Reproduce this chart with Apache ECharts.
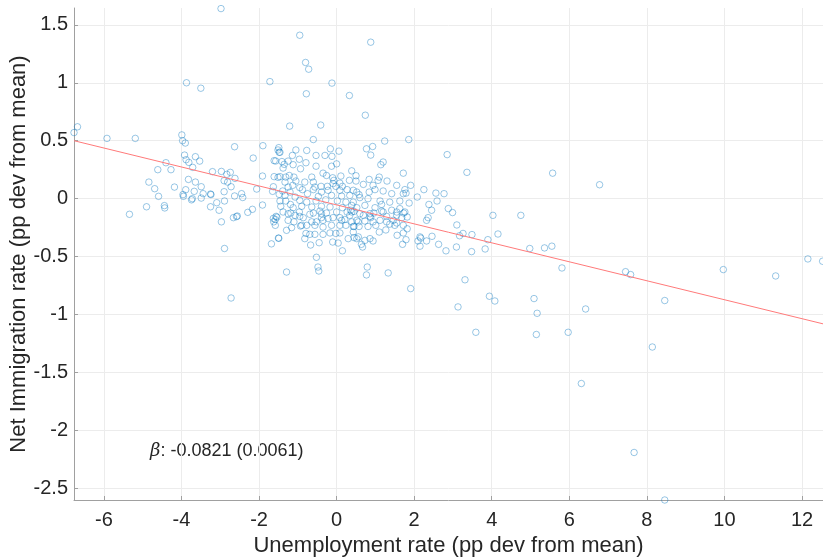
<!DOCTYPE html>
<html>
<head>
<meta charset="utf-8">
<script src="https://cdn.jsdelivr.net/npm/echarts@6/dist/echarts.min.js"></script>
<style>
html, body { margin: 0; padding: 0; background: #fff; }
#chart { width: 823px; height: 557px; }
</style>
</head>
<body>
<div id="chart"></div>
<script>
// unemployment (pp dev from mean)
var unemp = [
  -2.98,-6.77,-6.68,-5.92,-5.19,-5.34,-4.90,-4.84,-4.69,-4.61,-4.59,-4.44,-4.43,-4.40,-4.27,-4.18,
  -3.99,-3.97,-3.90,-3.92,-3.88,-3.81,-3.64,-3.53,-3.71,-3.82,-3.64,-3.49,-3.96,-3.95,-3.89,-3.67,
  -3.74,-3.72,-3.49,-3.44,-3.25,-3.24,-3.25,-3.09,-3.03,-2.97,-2.89,-2.89,-2.90,-2.90,-2.81,-2.97,
  -3.20,-2.83,-2.74,-2.62,-2.72,-2.63,-2.66,-2.58,-2.56,-2.45,-2.42,-2.29,-2.17,-2.06,-2.15,-2.63,
  -3.87,-3.50,-1.72,-1.90,-1.91,-1.91,-1.68,-1.65,-1.63,-1.61,-1.57,-1.51,-1.48,-1.61,-1.51,-1.48,
  -1.50,-1.63,-1.58,-1.54,-2.72,
  -0.95,0.88,-0.80,-0.72,-0.12,-0.78,0.33,0.74,-1.21,-0.41,-0.60,1.24,1.86,
  -1.49,-1.05,-0.77,-0.16,0.06,-1.46,-1.14,-0.53,-0.30,-0.12,-1.41,-1.25,-0.96,-0.79,-1.35,-1.12,
  -0.53,-0.13,0.00,-1.38,-0.93,-1.46,-1.31,-1.22,-1.10,-0.64,-0.35,-0.26,-0.10,0.11,0.39,-1.33,
  -1.05,-0.82,-0.60,-0.07,-0.09,0.085,0.33,0.50,-1.25,-1.13,-0.95,-0.56,-0.40,-0.24,-0.02,0.15,
  -1.39,-1.20,-0.88,-0.60,-0.75,-0.39,-0.22,0.085,0.27,0.43,-1.33,-1.07,-0.47,-0.13,0.13,0.34,
  0.58,-1.46,-1.31,-1.19,-0.95,-0.77,-0.53,-0.28,0.02,0.24,0.43,-1.44,-1.12,-0.90,-0.64,-0.39,
  -0.17,0.15,-1.38,-1.18,-0.96,-0.60,-0.43,-0.26,0.00,0.27,0.45,-1.56,-0.86,-0.39,-0.09,0.085,0.36,
  -1.62,-1.58,-1.25,-1.07,-0.95,-1.25,-1.10,-0.69,-0.64,-0.52,-0.39,-0.35,-0.22,0.13,0.21,0.34,
  0.52,-0.93,-0.90,-0.77,-0.56,-0.35,-0.13,0.085,0.24,0.45,-1.29,-1.16,-0.79,-0.69,-0.56,-0.35,
  -0.17,-0.02,0.085,0.30,0.45,0.56,-0.82,-0.10,0.04,-1.49,-0.67,-0.45,0.15,-0.52,-0.48,-0.46,-1.29,
  0.77,0.93,0.88,1.20,1.14,2.85,0.50,1.72,0.84,1.10,1.07,1.30,0.69,0.94,1.55,1.76,1.91,2.25,
  0.52,0.84,0.99,1.20,1.42,1.72,1.79,2.08,2.56,2.77,2.59,2.38,2.88,0.60,0.81,1.12,1.37,1.63,1.87,
  0.39,0.52,0.73,0.99,1.16,1.16,1.42,1.63,1.76,0.39,0.60,0.86,1.29,1.55,1.68,2.36,
  0.69,0.86,0.88,0.96,1.20,1.55,1.73,1.82,2.45,2.32,0.39,0.56,0.73,0.94,1.12,1.29,1.46,1.55,1.72,
  0.43,0.58,0.81,1.01,1.37,1.50,0.43,1.10,1.27,1.72,1.82,1.56,2.15,2.17,2.32,2.46,2.63,2.82,2.15,
  2.10,0.52,0.73,0.86,0.94,0.64,0.67,1.70,1.79,0.79,0.77,1.33,1.91,
  3.36,5.57,6.78,2.99,4.03,4.75,3.10,3.26,3.17,3.49,4.16,3.90,3.09,3.48,3.83,4.98,5.36,5.55,5.81,3.31,
  3.13,3.94,4.08,3.59,5.09,5.17,5.15,5.97,6.42,6.31,
  8.46,8.14,7.67,8.46,
  7.45,7.58,9.97,11.32,12.15,12.53
];
// net immigration (pp dev from mean)
var netImm = [
  1.64,0.57,0.62,0.52,0.52,-0.135,-0.07,0.143,0.086,0.25,0.02,-0.06,-0.08,0.31,0.25,0.10,
  0.55,0.50,0.48,0.376,0.336,0.313,0.362,0.324,0.27,0.166,0.143,0.103,0.035,0.02,0.077,0.063,
  -0.01,0.0,0.005,0.043,0.04,0.035,-0.07,-0.035,-0.10,-0.20,-0.43,-0.02,0.06,0.155,0.143,0.235,
  0.233,0.21,0.227,0.175,0.103,0.023,-0.164,-0.155,-0.15,0.043,0.01,-0.118,-0.092,0.083,0.35,0.448,
  1.00,0.953,1.01,0.457,0.195,-0.055,-0.39,0.063,0.103,0.328,0.325,0.42,0.40,0.19,0.184,0.037,
  -0.34,-0.17,-0.18,-0.16,-0.857,
  1.41,1.35,1.175,1.117,0.997,0.905,0.89,0.72,0.626,0.635,0.51,0.497,0.51,
  0.44,0.42,0.416,0.43,0.41,0.40,0.373,0.373,0.373,0.365,0.32,0.324,0.34,0.31,0.296,0.293,
  0.28,0.28,0.30,0.264,0.258,0.19,0.186,0.20,0.186,0.186,0.22,0.20,0.18,0.195,0.24,0.143,
  0.152,0.143,0.143,0.158,0.13,0.134,0.158,0.152,0.10,0.115,0.095,0.10,0.106,0.106,0.106,0.106,
  0.066,0.057,0.078,0.078,0.043,0.057,0.072,0.072,0.078,0.072,0.028,0.014,0.02,0.028,0.022,0.028,
  0.034,-0.02,-0.02,-0.05,-0.015,-0.03,-0.02,-0.01,-0.02,-0.03,-0.03,-0.066,-0.078,-0.066,-0.072,-0.066,
  -0.072,-0.078,-0.115,-0.124,-0.115,-0.124,-0.107,-0.124,-0.115,-0.115,-0.11,-0.153,-0.164,-0.164,-0.164,-0.164,-0.10,
  -0.20,-0.23,-0.13,-0.144,-0.153,-0.187,-0.20,-0.135,-0.20,-0.20,-0.13,-0.187,-0.172,-0.187,-0.18,-0.144,
  -0.187,-0.236,-0.23,-0.23,-0.23,-0.245,-0.23,-0.23,-0.23,-0.24,-0.273,-0.25,-0.30,-0.308,-0.308,-0.308,
  -0.296,-0.30,-0.296,-0.345,-0.336,-0.33,-0.345,-0.374,-0.383,-0.342,-0.40,-0.38,-0.45,-0.506,-0.59,-0.624,-0.633,
  0.43,0.45,0.376,0.316,0.293,0.38,0.198,0.22,0.166,0.186,0.158,0.152,0.123,0.115,0.115,0.078,0.115,0.078,
  0.057,0.057,0.078,0.066,0.043,0.043,0.048,0.014,0.048,0.043,-0.02,-0.05,-0.086,0.009,0.0,-0.02,-0.03,-0.02,-0.038,
  -0.058,-0.078,-0.058,-0.078,-0.05,-0.107,-0.10,-0.086,-0.115,-0.115,-0.13,-0.13,-0.153,-0.144,-0.164,-0.164,
  -0.144,-0.153,-0.164,-0.124,-0.115,-0.115,-0.124,-0.158,-0.10,-0.187,-0.20,-0.20,-0.193,-0.20,-0.187,-0.20,-0.187,-0.21,-0.23,
  -0.24,-0.24,-0.24,-0.23,-0.22,-0.23,-0.288,-0.288,-0.27,-0.296,-0.26,-0.316,-0.33,-0.34,-0.365,-0.325,-0.394,-0.45,-0.41,
  -0.365,-0.345,-0.36,-0.345,-0.365,-0.394,-0.417,-0.394,-0.354,-0.59,-0.658,-0.641,-0.776,
  0.227,0.22,0.12,-0.12,-0.144,-0.144,-0.227,-0.30,-0.32,-0.31,-0.305,-0.354,-0.417,-0.457,-0.434,-0.43,-0.425,-0.41,-0.598,-0.70,
  -0.934,-0.842,-0.883,-1.153,-0.862,-0.989,-1.172,-1.153,-0.952,-1.595,
  -0.879,-1.28,-2.19,-2.60,
  -0.63,-0.655,-0.612,-0.667,-0.52,-0.54
];
// fitted line end points
var fitX = [-6.77, 12.54];
var fitY = [0.50, -1.08];
var xTicks = [-6, -4, -2, 0, 2, 4, 6, 8, 10, 12];
var yTicks = [-2.5, -2, -1.5, -1, -0.5, 0, 0.5, 1, 1.5];
var betaText = '-0.0821 (0.0061)';

var points = [];
for (var i = 0; i < unemp.length; i++) {
  points.push([unemp[i], netImm[i]]);
}
var fitData = [[fitX[0], fitY[0]], [fitX[1], fitY[1]]];

var font = 'Liberation Sans, Arial, Helvetica, sans-serif';
var myChart = echarts.init(document.getElementById('chart'), null, { renderer: 'canvas' });

var option = {
  animation: false,
  backgroundColor: '#fff',
  grid: { left: 74, right: 0, top: 8, bottom: 57, containLabel: false, outerBoundsMode: 'none' },
  xAxis: {
    type: 'value',
    min: -6.77,
    max: 12.54,
    name: 'Unemployment rate (pp dev from mean)',
    nameLocation: 'middle',
    nameGap: 34,
    nameTextStyle: { fontFamily: font, fontSize: 22, color: '#262626' },
    axisLine: { show: true, onZero: false, lineStyle: { color: '#a0a0a0', width: 1 } },
    axisTick: { show: true, inside: true, length: 4, customValues: xTicks, lineStyle: { color: '#a0a0a0' } },
    axisLabel: { customValues: xTicks, fontFamily: font, fontSize: 20, color: '#262626', margin: 10 },
    splitLine: { show: true, lineStyle: { color: '#ececec', width: 1 } }
  },
  yAxis: {
    type: 'value',
    min: -2.6,
    max: 1.645,
    name: 'Net Immigration rate (pp dev from mean)',
    nameLocation: 'middle',
    nameGap: 44,
    nameMoveOverlap: false,
    nameTextStyle: { fontFamily: font, fontSize: 22, color: '#262626' },
    axisLine: { show: true, onZero: false, lineStyle: { color: '#a0a0a0', width: 1 } },
    axisTick: { show: true, inside: true, length: 4, customValues: yTicks, lineStyle: { color: '#a0a0a0' } },
    axisLabel: { customValues: yTicks, fontFamily: font, fontSize: 20, color: '#262626', margin: 6 },
    splitLine: { show: true, lineStyle: { color: '#ececec', width: 1 } }
  },
  series: [
    {
      type: 'scatter',
      data: points,
      symbol: 'circle',
      symbolSize: 6.5,
      clip: false,
      itemStyle: { color: 'rgba(0,0,0,0)', borderColor: 'rgba(0,114,189,0.5)', borderWidth: 1 }
    },
    {
      type: 'line',
      data: fitData,
      symbol: 'none',
      lineStyle: { color: '#ff7a7a', width: 1 },
      z: 3
    }
  ],
  graphic: [{
    type: 'text',
    left: 150,
    top: 442,
    style: {
      text: '{i|β}: ' + betaText,
      font: '18px ' + font,
      fill: '#262626',
      rich: { i: { fontStyle: 'italic', fontFamily: 'DejaVu Serif', fontSize: 18, fill: '#262626' } }
    }
  }]
};
myChart.setOption(option);
</script>
</body>
</html>
